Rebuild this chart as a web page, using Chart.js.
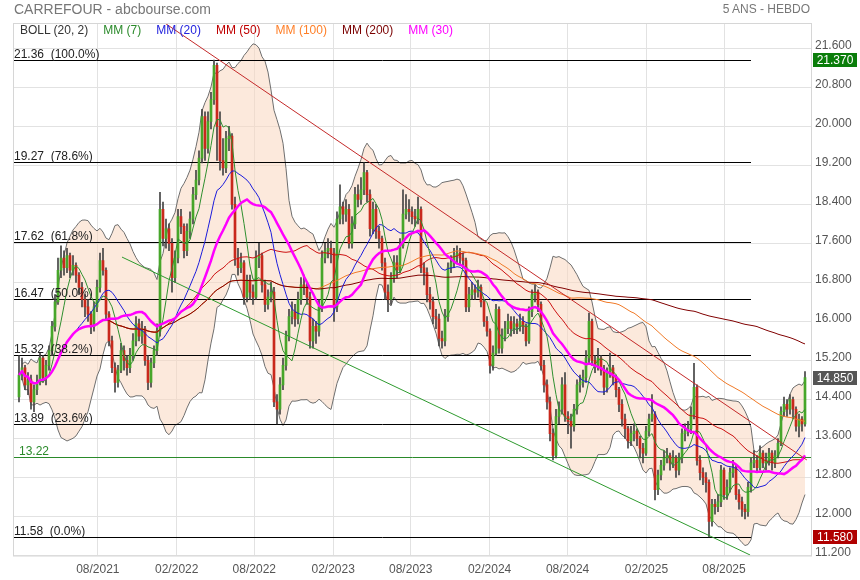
<!DOCTYPE html>
<html>
<head>
<meta charset="utf-8">
<title>CARREFOUR - abcbourse.com</title>
<script src="https://cdn.jsdelivr.net/npm/chart.js@4.4.1/dist/chart.umd.min.js"></script>
<style>
  html, body { margin: 0; padding: 0; background: #fff; }
  #wrap { position: relative; width: 860px; height: 580px; font-family: "Liberation Sans", Arial, sans-serif; }
  #wrap canvas { position: absolute; left: 0; top: 0; }
  .hdr { position: absolute; top: 1px; color: #777; white-space: nowrap; }
  #leg { position: absolute; left: 20px; top: 23px; font-size: 12px; line-height: 15px; display: flex; white-space: nowrap; }
  #leg span { margin-right: 15px; }
</style>
</head>
<body>
<div id="wrap">
  <canvas id="myChart" width="860" height="580"></canvas>
  <div class="hdr" style="left:14px; font-size:14px">CARREFOUR - abcbourse.com</div>
  <div class="hdr" style="right:50px; top:2px; font-size:12px">5 ANS - HEBDO</div>
  <div id="leg">
    <span style="color:#333">BOLL (20, 2)</span>
    <span style="color:#2b8a2b">MM (7)</span>
    <span style="color:#2222dd">MM (20)</span>
    <span style="color:#c00000">MM (50)</span>
    <span style="color:#ff7f27">MM (100)</span>
    <span style="color:#7a0000">MM (200)</span>
    <span style="color:#ff00ff">MM (30)</span>
  </div>
</div>
<script>
// semaines (vendredi) a partir du 29/01/2021
var firstWeek = Date.UTC(2021, 0, 29)
var xTickLabels = ['08/2021', '02/2022', '08/2022', '02/2023', '08/2023', '02/2024', '08/2024', '02/2025', '08/2025']
var yTicks = [11.2, 12.0, 12.8, 13.6, 14.4, 15.2, 16.0, 16.8, 17.6, 18.4, 19.2, 20.0, 20.8, 21.6]

var firstOpen = 14.45
var closes = [
  14.9, 15.05, 14.7, 14.8, 14.35, 14.6, 14.75, 15.25, 14.85, 15.1,
  15.4, 15.9, 16.4, 17.05, 17.3, 17.1, 17.35, 17.05, 17.15, 16.95,
  16.7, 16.45, 16.3, 16.15, 15.9, 16.3, 16.7, 17.25, 17.05, 16.15,
  15.6, 15.05, 14.75, 15.0, 15.4, 15.2, 15.05, 15.3, 15.6, 15.95,
  15.7, 15.85, 15.2, 14.75, 15.15, 15.4, 15.8, 18.3, 17.7, 17.9,
  17.6, 16.9, 17.3, 18.15, 17.95, 17.45, 17.85, 18.1, 18.6, 18.9,
  19.35, 20.2, 19.55, 20.1, 20.55, 21.25, 20.0, 19.3, 19.15, 19.75,
  19.8, 18.4, 17.3, 17.1, 17.2, 16.5, 16.85, 16.6, 16.5, 17.3,
  17.35, 16.75, 16.35, 16.5, 16.6, 14.35, 14.2, 14.7, 15.1, 15.7,
  16.1, 16.2, 16.05, 16.45, 16.75, 16.7, 16.5, 15.6, 15.9, 15.8,
  16.3, 17.3, 17.45, 17.5, 17.4, 16.3, 18.1, 18.35, 18.2, 18.3,
  17.6, 18.0, 18.6, 18.5, 18.7, 19.05, 18.6, 17.9, 18.3, 17.85,
  17.7, 17.2, 16.6, 16.45, 16.9, 17.2, 17.05, 17.55, 18.2, 18.3,
  18.25, 18.15, 18.1, 18.3, 17.1, 17.0, 16.55, 16.4, 16.1, 16.05,
  15.65, 15.6, 16.1, 17.1, 17.2, 17.35, 17.4, 17.3, 17.25, 16.3,
  16.55, 16.65, 16.6, 16.7, 16.4, 16.0, 15.8, 15.1, 15.35, 16.25,
  15.45, 15.7, 15.85, 16.0, 15.85, 15.95, 15.9, 16.0, 15.9, 15.6,
  16.2, 16.55, 16.6, 16.35, 15.1, 14.7, 14.35, 13.7, 13.25, 14.05,
  14.2, 14.7, 14.05, 13.95, 13.85, 14.2, 14.7, 14.75, 14.85, 15.25,
  16.0, 15.2, 15.1, 15.25, 15.0, 14.65, 14.95, 15.05, 14.85, 14.6,
  14.3, 14.0, 13.8, 13.55, 13.7, 13.75, 13.6, 13.4, 13.3, 13.75,
  14.0, 14.1, 12.55, 12.85, 13.05, 13.2, 13.25, 13.1, 13.2, 12.95,
  13.2, 13.7, 13.75, 13.8, 14.1, 14.65, 13.15, 12.9, 12.8, 12.7,
  11.9, 12.25, 12.2, 12.3, 12.95, 12.45, 12.6, 12.9, 13.0, 12.45,
  12.3, 12.15, 12.1, 12.6, 13.1, 13.15, 13.0, 13.3, 13.1, 13.15,
  13.3, 13.1, 13.25, 13.5, 14.15, 14.3, 14.2, 14.4, 14.2, 13.85,
  14.0, 13.9, 14.85
]
var highs = [
  15.3, 15.25, 15.1, 14.95, 14.9, 14.7, 14.9, 15.35, 15.3, 15.2,
  15.5, 16.0, 16.55, 17.3, 17.55, 17.45, 17.5, 17.4, 17.35, 17.2,
  17.0, 16.8, 16.55, 16.45, 16.2, 16.4, 16.85, 17.4, 17.5, 17.1,
  16.2, 15.7, 15.15, 15.1, 15.55, 15.5, 15.3, 15.45, 15.75, 16.1,
  16.05, 16.0, 15.9, 15.3, 15.25, 15.5, 15.95, 18.65, 18.45, 18.1,
  18.0, 17.7, 17.45, 18.3, 18.3, 18.0, 18.0, 18.25, 18.75, 19.1,
  19.5, 20.35, 20.3, 20.3, 20.7, 21.36, 21.3, 20.3, 19.75, 19.9,
  20.0, 19.85, 18.55, 17.5, 17.4, 17.25, 16.95, 16.95, 16.75, 17.45,
  17.6, 17.4, 16.85, 16.65, 16.8, 16.7, 14.5, 14.85, 15.25, 15.8,
  16.25, 16.4, 16.35, 16.6, 16.9, 16.95, 16.8, 16.6, 16.05, 16.0,
  16.45, 17.45, 17.6, 17.7, 17.65, 17.5, 18.25, 18.8, 18.45, 18.5,
  18.4, 18.15, 18.75, 18.8, 18.95, 19.25, 19.1, 18.7, 18.45, 18.4,
  17.95, 17.75, 17.3, 16.75, 17.0, 17.35, 17.35, 17.7, 18.7, 18.6,
  18.5, 18.35, 18.3, 18.55, 18.35, 17.2, 17.1, 16.7, 16.5, 16.25,
  16.15, 15.8, 16.25, 17.2, 17.35, 17.5, 17.55, 17.5, 17.4, 17.3,
  16.7, 16.8, 16.75, 16.85, 16.75, 16.45, 16.1, 15.85, 15.5, 16.35,
  16.3, 15.85, 16.0, 16.15, 16.1, 16.1, 16.05, 16.15, 16.1, 15.95,
  16.3, 16.65, 16.75, 16.65, 16.4, 15.2, 14.8, 14.45, 13.8, 14.2,
  14.35, 14.85, 14.95, 14.15, 14.1, 14.3, 14.8, 14.9, 15.0, 15.4,
  16.17, 16.05, 15.3, 15.45, 15.3, 15.1, 15.05, 15.35, 15.1, 14.9,
  14.65, 14.4, 14.1, 13.85, 13.85, 13.9, 13.8, 13.65, 13.5, 13.85,
  14.1, 14.5, 14.15, 12.95, 13.15, 13.35, 13.4, 13.3, 13.35, 13.25,
  13.3, 13.8, 13.9, 13.95, 14.25, 15.14, 14.7, 13.25, 13.0, 12.9,
  12.75, 12.35, 12.35, 12.45, 13.05, 13.0, 12.75, 13.0, 13.15, 13.05,
  12.55, 12.4, 12.25, 12.7, 13.2, 13.35, 13.25, 13.45, 13.35, 13.3,
  13.4, 13.35, 13.35, 13.6, 14.25, 14.45, 14.4, 14.5, 14.45, 14.25,
  14.1, 14.05, 14.97
]
var lows = [
  14.35, 14.8, 14.6, 14.5, 14.2, 14.15, 14.5, 14.7, 14.75, 14.7,
  15.0, 15.3, 15.8, 16.35, 16.9, 16.95, 17.0, 16.9, 16.95, 16.8,
  16.55, 16.3, 16.1, 16.0, 15.75, 15.8, 16.2, 16.6, 16.95, 16.05,
  15.5, 14.95, 14.55, 14.65, 14.95, 15.0, 14.9, 14.95, 15.2, 15.5,
  15.6, 15.55, 15.1, 14.6, 14.65, 15.05, 15.3, 15.7, 17.55, 17.5,
  17.45, 16.6, 16.8, 17.2, 17.8, 17.3, 17.35, 17.7, 18.0, 18.5,
  18.8, 19.25, 19.3, 19.45, 19.95, 20.45, 19.3, 19.1, 19.0, 19.05,
  19.5, 18.3, 17.15, 16.95, 17.0, 16.35, 16.4, 16.45, 16.35, 16.45,
  17.1, 16.6, 16.2, 16.25, 16.4, 14.25, 13.9, 14.1, 14.6, 15.0,
  15.6, 15.95, 15.9, 15.95, 16.35, 16.55, 16.35, 15.45, 15.45, 15.55,
  15.7, 16.2, 17.2, 17.3, 17.2, 16.0, 16.2, 18.0, 18.0, 18.05,
  17.5, 17.5, 17.9, 18.35, 18.4, 18.6, 18.45, 17.75, 17.8, 17.7,
  17.5, 17.05, 16.45, 16.2, 16.35, 16.8, 16.9, 17.0, 17.5, 18.1,
  18.05, 18.0, 17.95, 18.0, 17.0, 16.75, 16.4, 16.25, 15.95, 15.85,
  15.5, 15.45, 15.5, 16.0, 17.0, 17.1, 17.2, 17.15, 17.1, 16.2,
  16.2, 16.45, 16.45, 16.5, 16.3, 15.9, 15.7, 14.94, 15.0, 15.3,
  15.35, 15.35, 15.6, 15.75, 15.7, 15.75, 15.75, 15.8, 15.75, 15.5,
  15.55, 16.1, 16.4, 16.2, 15.0, 14.55, 14.2, 13.55, 13.16, 13.2,
  13.9, 14.1, 13.95, 13.7, 13.4, 13.75, 14.1, 14.55, 14.65, 14.75,
  15.15, 15.1, 14.95, 15.0, 14.9, 14.5, 14.55, 14.85, 14.7, 14.45,
  14.15, 13.85, 13.6, 13.4, 13.45, 13.55, 13.45, 13.2, 13.1, 13.25,
  13.65, 13.95, 12.34, 12.45, 12.75, 12.95, 13.1, 12.95, 13.0, 12.8,
  12.85, 13.1, 13.55, 13.65, 13.7, 14.0, 13.05, 12.75, 12.65, 12.5,
  11.58, 11.8, 12.05, 12.1, 12.2, 12.35, 12.35, 12.5, 12.8, 12.35,
  12.15, 12.0, 11.95, 12.0, 12.5, 13.0, 12.9, 12.95, 13.0, 12.95,
  13.05, 12.95, 13.0, 13.2, 13.45, 14.05, 14.05, 14.1, 14.0, 13.75,
  13.63, 13.75, 13.85
]

// Fibonacci et niveaux
var fibValues = [21.36, 19.27, 17.62, 16.47, 15.32, 13.89, 11.58]
var fibPct = ['100.0%', '78.6%', '61.8%', '50.0%', '38.2%', '23.6%', '0.0%']
var supportLevel = 13.22
var priceTags = [21.37, 14.85, 11.58]
var priceTagColors = ['#0a7d0a', '#555555', '#b00000']

// lignes de tendance [semaine, cours]
var trendDown = [[45, 22.27], [262.6, 13.16]]
var trendUp = [[34.33, 17.32], [243.7, 11.21]]

var fontFam = '"Liberation Sans", Arial, sans-serif'
Chart.defaults.font.family = fontFam

var opens = [firstOpen].concat(closes.slice(0, -1))

function sma(n, minP) {
  return closes.map(function (c, i) {
    if (i < minP - 1) return { x: i, y: null }
    var s = closes.slice(Math.max(0, i - n + 1), i + 1)
    var m = s.reduce(function (a, b) { return a + b }, 0) / s.length
    return { x: i, y: m }
  })
}

var bollUp = [], bollLo = []
closes.forEach(function (c, i) {
  if (i < 1) { bollUp.push({ x: i, y: null }); bollLo.push({ x: i, y: null }); return }
  var s = closes.slice(Math.max(0, i - 19), i + 1)
  var m = s.reduce(function (a, b) { return a + b }, 0) / s.length
  var v = s.reduce(function (a, b) { return a + (b - m) * (b - m) }, 0) / s.length
  var sd = Math.sqrt(v)
  bollUp.push({ x: i, y: m + 2 * sd })
  bollLo.push({ x: i, y: m - 2 * sd })
})

var xTickPos = xTickLabels.map(function (l) {
  var mth = parseInt(l.slice(0, 2), 10), yr = parseInt(l.slice(3), 10)
  return (Date.UTC(yr, mth - 1, 1) - firstWeek) / (7 * 86400000)
})

var upColor = '#47a62a', downColor = '#c9281c'
function candleColor(ctx) {
  var i = ctx.dataIndex
  return closes[i] >= opens[i] ? upColor : downColor
}

function lineDs(data, color, width, order) {
  return { type: 'line', data: data, borderColor: color, borderWidth: width, pointRadius: 0, fill: false, order: order, tension: 0 }
}

var overlay = {
  id: 'overlay',
  afterDatasetDraw: function (chart, args) {
    if (args.index !== 1) return
    var ctx = chart.ctx, area = chart.chartArea, xs = chart.scales.x, ys = chart.scales.y
    ctx.save()
    ctx.lineWidth = 1
    ctx.strokeStyle = '#000'
    fibValues.forEach(function (v) {
      var py = Math.round(ys.getPixelForValue(v)) + 0.5
      ctx.beginPath()
      ctx.moveTo(area.left + 1, py)
      ctx.lineTo(xs.getPixelForValue(244), py)
      ctx.stroke()
    })
    ctx.strokeStyle = '#2a8a2a'
    var gy = Math.round(ys.getPixelForValue(supportLevel)) + 0.5
    ctx.beginPath()
    ctx.moveTo(area.left + 1, gy)
    ctx.lineTo(area.right, gy)
    ctx.stroke()
    ctx.restore()
  },
  afterDatasetsDraw: function (chart) {
    var ctx = chart.ctx, area = chart.chartArea, ys = chart.scales.y
    ctx.save()
    ctx.font = '12px ' + fontFam
    ctx.textBaseline = 'alphabetic'
    ctx.fillStyle = '#222'
    fibValues.forEach(function (v, k) {
      var py = Math.round(ys.getPixelForValue(v))
      ctx.fillText(v.toFixed(2) + '  (' + fibPct[k] + ')', area.left + 1, py - 2)
    })
    ctx.fillStyle = '#2a8a2a'
    ctx.fillText(supportLevel.toFixed(2), area.left + 6, Math.round(ys.getPixelForValue(supportLevel)) - 2)
    ctx.restore()
  },
  afterDraw: function (chart) {
    var ctx = chart.ctx, area = chart.chartArea, ys = chart.scales.y
    ctx.save()
    ctx.strokeStyle = '#d6d6d6'
    ctx.lineWidth = 1
    ctx.strokeRect(area.left + 0.5, area.top + 0.5, area.right - area.left, area.bottom - area.top)
    ctx.font = '12px ' + fontFam
    ctx.textAlign = 'center'
    ctx.textBaseline = 'middle'
    priceTags.forEach(function (v, k) {
      var py = Math.round(ys.getPixelForValue(v))
      ctx.fillStyle = priceTagColors[k]
      ctx.fillRect(area.right + 2, py - 7, 44, 14)
      ctx.fillStyle = '#fff'
      ctx.fillText(v.toFixed(3), area.right + 24, py + 0.5)
    })
    ctx.restore()
  }
}

var ctx = document.getElementById('myChart').getContext('2d')
var myChart = new Chart(ctx, {
  type: 'bar',
  data: {
    datasets: [
      { type: 'line', data: bollUp, borderColor: '#6e6e6e', borderWidth: 1, pointRadius: 0, fill: '+1', backgroundColor: 'rgba(250,215,192,0.55)', order: 20 },
      { type: 'line', data: bollLo, borderColor: '#6e6e6e', borderWidth: 1, pointRadius: 0, fill: false, order: 19 },
      {
        data: closes.map(function (c, i) { return { x: i, y: [lows[i], highs[i]] } }),
        backgroundColor: '#444', barThickness: 1, grouped: false, order: 12
      },
      {
        data: closes.map(function (c, i) { return { x: i, y: [opens[i], c] } }),
        backgroundColor: candleColor, barThickness: 2, grouped: false, minBarLength: 1, order: 11
      },
      lineDs(sma(50, 30), '#cc1111', 1, 9),
      lineDs(sma(100, 30), '#f07a28', 1, 8),
      lineDs(sma(200, 30), '#800000', 1, 7),
      lineDs(sma(20, 20), '#1c1cdc', 1, 6),
      lineDs(sma(7, 7), '#2f8f2f', 1, 5),
      lineDs(sma(30, 1), '#ff00ff', 2.5, 4),
      lineDs(trendDown.map(function (p) { return { x: p[0], y: p[1] } }), '#c42a2a', 1, 2),
      lineDs(trendUp.map(function (p) { return { x: p[0], y: p[1] } }), '#2e9a2e', 1, 1)
    ]
  },
  options: {
    responsive: false,
    animation: false,
    layout: { padding: { top: 23, left: 13, right: 0, bottom: 0 } },
    plugins: { legend: { display: false }, tooltip: { enabled: false } },
    scales: {
      x: {
        type: 'linear', min: -2, max: 264, offset: false,
        grid: { offset: false, color: '#e2e2e2', drawTicks: false },
        border: { display: false },
        ticks: {
          autoSkip: false, maxRotation: 0, padding: 7, color: '#555', font: { size: 12 },
          callback: function (v, i) { return xTickLabels[i] }
        },
        afterBuildTicks: function (s) { s.ticks = xTickPos.map(function (v) { return { value: v } }) },
        afterFit: function (s) { s.height = 24.5 }
      },
      y: {
        position: 'right', min: 11.2, max: 22.12,
        grid: { color: '#e2e2e2', drawTicks: false },
        border: { display: false },
        ticks: {
          padding: 4, color: '#555', font: { size: 12 }, labelOffset: -3,
          callback: function (v) { return Number(v).toFixed(3) }
        },
        afterBuildTicks: function (s) { s.ticks = yTicks.map(function (v) { return { value: v } }) },
        afterFit: function (s) { s.width = 49 }
      }
    }
  },
  plugins: [overlay]
})
</script>
</body>
</html>
